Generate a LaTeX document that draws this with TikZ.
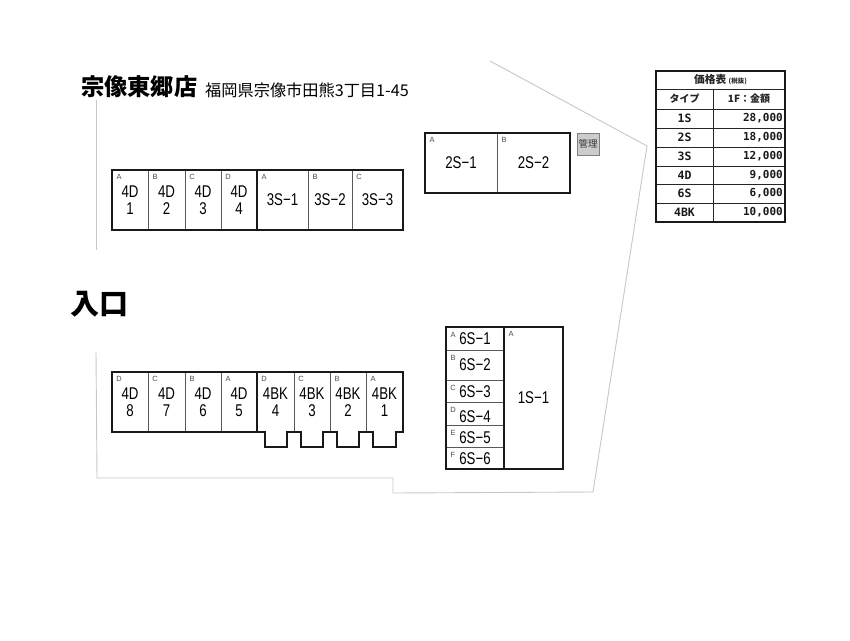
\documentclass[tikz,border=0pt]{standalone}
\usepackage{fontspec}
\usepackage{xcolor}
\setmainfont{Liberation Sans}
\newfontfamily\cjk{Noto Sans CJK JP}
\newfontfamily\roomfont[FakeStretch=0.78]{Liberation Sans}
\newfontfamily\monofont{DejaVu Sans Mono}

\begin{document}
\begin{tikzpicture}[
    x=1pt, y=-1pt,
    room/.style={draw=black!65, line width=0.9pt, inner sep=0pt, outer sep=0pt, align=center, font=\roomfont\fontsize{17}{17}\selectfont},
    tagmark/.style={inner sep=0pt, text=black!70, font=\fontsize{7.5}{8}\selectfont},
    frame/.style={draw=black!90, line width=1.1pt},
    site/.style={draw=black!22, line width=0.9pt},
    cell/.style={draw=black!85, line width=0.9pt, inner sep=0pt, outer sep=0pt},
    celltext/.style={inner sep=0pt, text=black!90, font=\monofont\bfseries\fontsize{11.5}{12}\selectfont}
]
\useasboundingbox (0,0) rectangle (850,640);

% Site boundary
\draw[site] (96,100) -- (96,250);
\draw[site] (96,352) -- (97,478) -- (393,478) -- (393,493) -- (593,492) -- (647,146) -- (490,61);

% Title
\node[inner sep=0pt, anchor=west, font=\cjk\bfseries\fontsize{23.2}{25}\selectfont] (title) at (81,87) {宗像東郷店};
\node[inner sep=0pt, anchor=west, font=\cjk\fontsize{16.2}{18}\selectfont] (address) at (205,90) {福岡県宗像市田熊3丁目1-45};
\node[inner sep=0pt, anchor=west, font=\cjk\bfseries\fontsize{29}{31}\selectfont] (entrance) at (70,304) {入口};

% Rooms
\foreach \n/\xa/\xb/\ya/\yb/\t/\s in {
    tA/112/148/170/230/A/{4D\\1}, tB/148/185/170/230/B/{4D\\2}, tC/185/221/170/230/C/{4D\\3}, tD/221/257/170/230/D/{4D\\4},
    tE/257/308/170/230/A/{3S−1}, tF/308/352/170/230/B/{3S−2}, tG/352/403/170/230/C/{3S−3},
    bA/112/148/372/432/D/{4D\\8}, bB/148/185/372/432/C/{4D\\7}, bC/185/221/372/432/B/{4D\\6}, bD/221/257/372/432/A/{4D\\5},
    nA/425/497/133/193/A/{2S−1}, nB/497/570/133/193/B/{2S−2},
    eA/504/563/327/469/A/{1S−1}}{
    \node[room, minimum width={(\xb-\xa)*1pt}, minimum height={(\yb-\ya)*1pt}] (\n) at ({(\xa+\xb)/2},{(\ya+\yb)/2}) {\s};
    \node[tagmark] (\n-tag) at ({\xa+7},{\ya+7}) {\t};
}
% 4BK rooms are open towards their bays
\foreach \n/\xa/\xb/\t/\s in {bE/257/294/D/{4BK\\4}, bF/294/330/C/{4BK\\3}, bG/330/366/B/{4BK\\2}, bH/366/403/A/{4BK\\1}}{
    \node[room, draw=none, minimum width={(\xb-\xa)*1pt}, minimum height=60pt] (\n) at ({(\xa+\xb)/2},402) {\s};
    \node[tagmark] (\n-tag) at ({\xa+7},379) {\t};
}
\foreach \n in {bE,bF,bG}
    \draw[draw=black!65, line width=0.9pt] (\n.north east) -- (\n.south east);
\foreach \n/\ya/\yb/\yt/\t/\s in {
    sA/327/350/339/A/{6S−1}, sB/350/380/365/B/{6S−2}, sC/380/402/392/C/{6S−3},
    sD/402/425/417/D/{6S−4}, sE/425/447/438/E/{6S−5}, sF/447/469/459/F/{6S−6}}{
    \node[room, minimum width=58pt, minimum height={(\yb-\ya)*1pt}] (\n) at (475,{(\ya+\yb)/2}) {};
    \node[room, draw=none] (\n-text) at (475,\yt) {\s};
    \node[tagmark] (\n-tag) at (453,{\ya+8}) {\t};
}

% Outer frames
\draw[frame] (tA.north west) rectangle (tG.south east);
\draw[frame] (nA.north west) rectangle (nB.south east);
\draw[frame] (sA.north west) rectangle (eA.south east);
\draw[frame] (tD.north east) -- (tD.south east);
\draw[frame] (sA.north east) -- (sF.south east);
\draw[frame] (bD.north east) -- (bD.south east);
\draw[frame] (bA.north west) -- (bH.north east) -- (bH.south east) -- (396,432)
    -- (396,447) -- (373,447) -- (373,432) -- (359,432) -- (359,447) -- (337,447) -- (337,432)
    -- (323,432) -- (323,447) -- (301,447) -- (301,432) -- (287,432) -- (287,447) -- (265,447) -- (265,432)
    -- (bA.south west) -- cycle;

% Office
\node[draw=black!50, fill=black!20, line width=0.9pt, minimum size=22pt, inner sep=0pt, font=\cjk\fontsize{9.5}{10}\selectfont, text=black!80] (office) at (588,144) {管理};

% Price table
\node[cell, minimum width=129pt, minimum height=18pt, font=\cjk\bfseries\fontsize{10.7}{11}\selectfont, text=black!85] (head) at (720.5,80) {価格表 {\fontsize{6.5}{7}\selectfont (税抜)}};
\foreach \n/\ya/\yb/\a/\b in {
    rA/109/128/1S/{28,000}, rB/128/147/2S/{18,000}, rC/147/166/3S/{12,000},
    rD/166/184/4D/{9,000}, rE/184/203/6S/{6,000}, rF/203/222/4BK/{10,000}}{
    \node[cell, minimum width=57pt, minimum height={(\yb-\ya)*1pt}] (\n-type) at (684.5,{(\ya+\yb)/2}) {};
    \node[cell, minimum width=72pt, minimum height={(\yb-\ya)*1pt}] (\n-price) at (749,{(\ya+\yb)/2}) {};
    \node[celltext] (\n-a) at (\n-type) {\a};
    \node[celltext, font=\monofont\bfseries\fontsize{11}{12}\selectfont, anchor=east] (\n-b) at ([xshift=-2pt]\n-price.east) {\b};
}
\node[cell, minimum width=57pt, minimum height=20pt, font=\cjk\bfseries\fontsize{10}{11}\selectfont, text=black!85] (head-type) at (684.5,99) {タイプ};
\node[cell, minimum width=72pt, minimum height=20pt, font=\cjk\bfseries\fontsize{10}{11}\selectfont, text=black!85] (head-price) at (749,99) {1F：金額};
\draw[frame, line width=1.1pt] (head.north west) rectangle (rF-price.south east);

\end{tikzpicture}
\end{document}
